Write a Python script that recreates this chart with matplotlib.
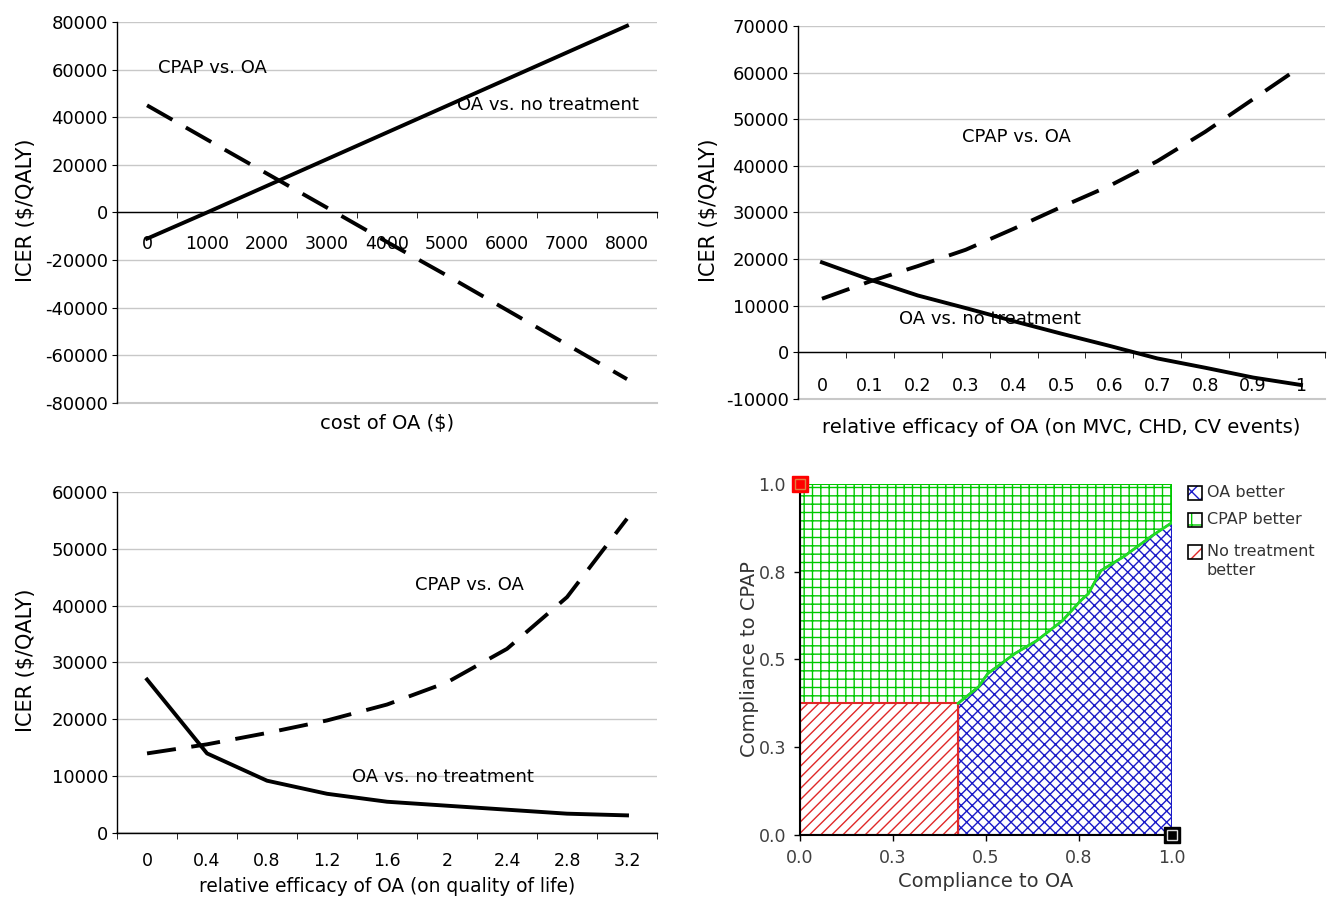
import numpy as np
import matplotlib
matplotlib.use('Agg')
import matplotlib.pyplot as plt
from matplotlib.patches import Polygon, Rectangle

plt.rcParams['font.family'] = ['DejaVu Sans']
plt.rcParams['hatch.linewidth'] = 1.0
plt.rcParams['axes.unicode_minus'] = False

# --- data ---
# panel 1: cost of OA
cost_cats = ['0', '1000', '2000', '3000', '4000', '5000', '6000', '7000', '8000']
cost_oa_vs_none = [-11000, 0, 11200, 22400, 33600, 44800, 56000, 67200, 78400]
cost_cpap_vs_oa = [45000, 30600, 16300, 2000, -12400, -26500, -41000, -55500, -70000]

# panel 2: relative efficacy on MVC, CHD, CV events
eff_cats = ['0', '0.1', '0.2', '0.3', '0.4', '0.5', '0.6', '0.7', '0.8', '0.9', '1']
eff_cpap_vs_oa = [11500, 15200, 18500, 22000, 26500, 31200, 35700, 41000, 47300, 54300, 61300]
eff_oa_vs_none = [19300, 15600, 12200, 9500, 6700, 4000, 1400, -1300, -3300, -5400, -7000]

# panel 3: relative efficacy on quality of life
qol_cats = ['0', '0.4', '0.8', '1.2', '1.6', '2', '2.4', '2.8', '3.2']
qol_oa_vs_none = [27000, 14000, 9200, 6900, 5500, 4800, 4100, 3400, 3100]
qol_cpap_vs_oa = [14000, 15600, 17600, 19800, 22600, 26500, 32400, 41500, 55300]

# panel 4: two-way sensitivity (compliance)
oa_red_x = 0.425
cpap_red_y = 0.375
border_x = [0.425, 0.48, 0.505, 0.578, 0.637, 0.706, 0.755, 0.775, 0.809, 0.873, 0.946, 1.0]
border_y = [0.375, 0.422, 0.46, 0.517, 0.554, 0.611, 0.668, 0.687, 0.753, 0.795, 0.852, 0.89]
comp_ticks = [0, 0.25, 0.5, 0.75, 1.0]
comp_labels = ['0.0', '0.3', '0.5', '0.8', '1.0']

fig = plt.figure(figsize=(13.3, 9.08), dpi=100)

def line_panel(rect, cats, solid, dashed, ylim, ystep, xlabel, xlab_y, xlab_size, tick_pad, texts):
    ax = fig.add_axes(rect)
    x = np.arange(len(cats))
    ax.plot(x, solid, color='black', lw=2.8, solid_joinstyle='round')
    ax.plot(x, dashed, color='black', lw=2.8, linestyle=(0, (7.5, 4)))
    ax.set_xlim(-0.5, len(cats) - 0.5)
    ax.set_ylim(*ylim)
    ax.set_yticks(np.arange(ylim[0], ylim[1] + 1, ystep))
    ax.yaxis.grid(True, color='#c8c8c8', lw=1)
    ax.axhline(ylim[0], color='#c8c8c8', lw=1.5, clip_on=False, zorder=0.5)
    ax.set_axisbelow(True)
    for s in ['top', 'right']:
        ax.spines[s].set_visible(False)
    ax.spines['bottom'].set_position(('data', 0))
    ax.spines['left'].set_linewidth(1)
    ax.spines['bottom'].set_linewidth(1)
    ax.set_xticks(x)
    ax.set_xticklabels(cats)
    ax.set_xticks(np.arange(len(cats) + 1) - 0.5, minor=True)
    ax.tick_params(axis='x', which='major', length=0, pad=tick_pad, labelsize=12.5)
    ax.tick_params(axis='x', which='minor', length=4, direction='out')
    ax.tick_params(axis='y', length=3.5, pad=3, labelsize=13)
    ax.set_xlabel(xlabel, fontsize=xlab_size)
    ax.xaxis.set_label_coords(0.5, xlab_y)
    ax.set_ylabel('ICER ($/QALY)', fontsize=15)
    ax.yaxis.set_label_coords(-0.15, 0.506)
    for tx, ty, s in texts:
        ax.text(tx, ty, s, fontsize=13, ha='left', va='center')
    return ax

line_panel([0.0880, 0.5562, 0.4060, 0.4196], cost_cats, cost_oa_vs_none, cost_cpap_vs_oa,
           (-80000, 80000), 20000, 'cost of OA ($)', -0.03, 14, 16.5,
           [(0.18, 60800, 'CPAP vs. OA'), (5.17, 45200, 'OA vs. no treatment')])

line_panel([0.6000, 0.5606, 0.3962, 0.4108], eff_cats, eff_oa_vs_none, eff_cpap_vs_oa,
           (-10000, 70000), 10000, 'relative efficacy of OA (on MVC, CHD, CV events)', -0.05, 14, 17.5,
           [(2.92, 46250, 'CPAP vs. OA'), (1.6, 7100, 'OA vs. no treatment')])

line_panel([0.0880, 0.0826, 0.4060, 0.3756], qol_cats, qol_oa_vs_none, qol_cpap_vs_oa,
           (0, 60000), 10000, 'relative efficacy of OA (on quality of life)', -0.13, 13.4, 13.5,
           [(4.47, 43600, 'CPAP vs. OA'), (3.42, 9850, 'OA vs. no treatment')])

# --- panel 4 ---
ax = fig.add_axes([0.6015, 0.0804, 0.2797, 0.3866])
green = '#00c800'
blue = '#1a1ac8'
red = '#e02828'
green_poly = [(0, cpap_red_y)] + list(zip(border_x, border_y)) + [(1, 1), (0, 1)]
blue_poly = [(oa_red_x, 0), (1, 0)] + list(zip(border_x[::-1], border_y[::-1]))
red_poly = [(0, 0), (oa_red_x, 0), (oa_red_x, cpap_red_y), (0, cpap_red_y)]
ax.add_patch(Polygon(green_poly, closed=True, facecolor='white', edgecolor=green, hatch='++', lw=1.5))
ax.add_patch(Polygon(blue_poly, closed=True, facecolor='white', edgecolor=blue, hatch='xxx', lw=1.5))
ax.add_patch(Polygon(red_poly, closed=True, facecolor='white', edgecolor=red, hatch='///', lw=1.5))
ax.plot(border_x, border_y, color='#22dd22', lw=2)
ax.set_xlim(0, 1)
ax.set_ylim(0, 1)
for s in ['top', 'right']:
    ax.spines[s].set_visible(False)
ax.spines['left'].set_linewidth(1.5)
ax.spines['bottom'].set_linewidth(1.5)
ax.set_xticks(comp_ticks)
ax.set_xticklabels(comp_labels)
ax.set_yticks(comp_ticks)
ax.set_yticklabels(comp_labels)
ax.tick_params(length=4, width=1, pad=6, labelsize=12.5, labelcolor='#404040')
ax.set_xlabel('Compliance to OA', fontsize=14, color='#333333', labelpad=4)
ax.set_ylabel('Compliance to CPAP', fontsize=14, color='#333333', labelpad=0)
ax.plot([0], [1], marker='s', ms=11, mfc='red', mec='red', clip_on=False, zorder=10)
ax.plot([0], [1], marker='s', ms=7, mfc='none', mec='#e08040', mew=1, clip_on=False, zorder=11)
ax.plot([1], [0], marker='s', ms=11, mfc='black', mec='black', clip_on=False, zorder=10)
ax.plot([1], [0], marker='s', ms=7, mfc='none', mec='#dddddd', mew=1, clip_on=False, zorder=11)

# hand-drawn legend to the right of the plot
leg_items = [('OA better', blue, 'xx', 0.974), ('CPAP better', green, '+', 0.897),
             ('No treatment\nbetter', red, '//', 0.806)]
for lab, col, hat, yc in leg_items:
    ax.add_patch(Rectangle((1.043, yc - 0.02), 0.038, 0.04, transform=ax.transAxes,
                           facecolor='white', edgecolor=col, hatch=hat, lw=0, clip_on=False))
    ax.add_patch(Rectangle((1.043, yc - 0.02), 0.038, 0.04, transform=ax.transAxes,
                           facecolor='none', edgecolor='black', lw=1.2, clip_on=False))
    ax.text(1.093, yc + 0.024, lab, transform=ax.transAxes, fontsize=11.5, color='#333333',
            ha='left', va='top', linespacing=1.4)

fig.savefig('out.png', dpi=100)
